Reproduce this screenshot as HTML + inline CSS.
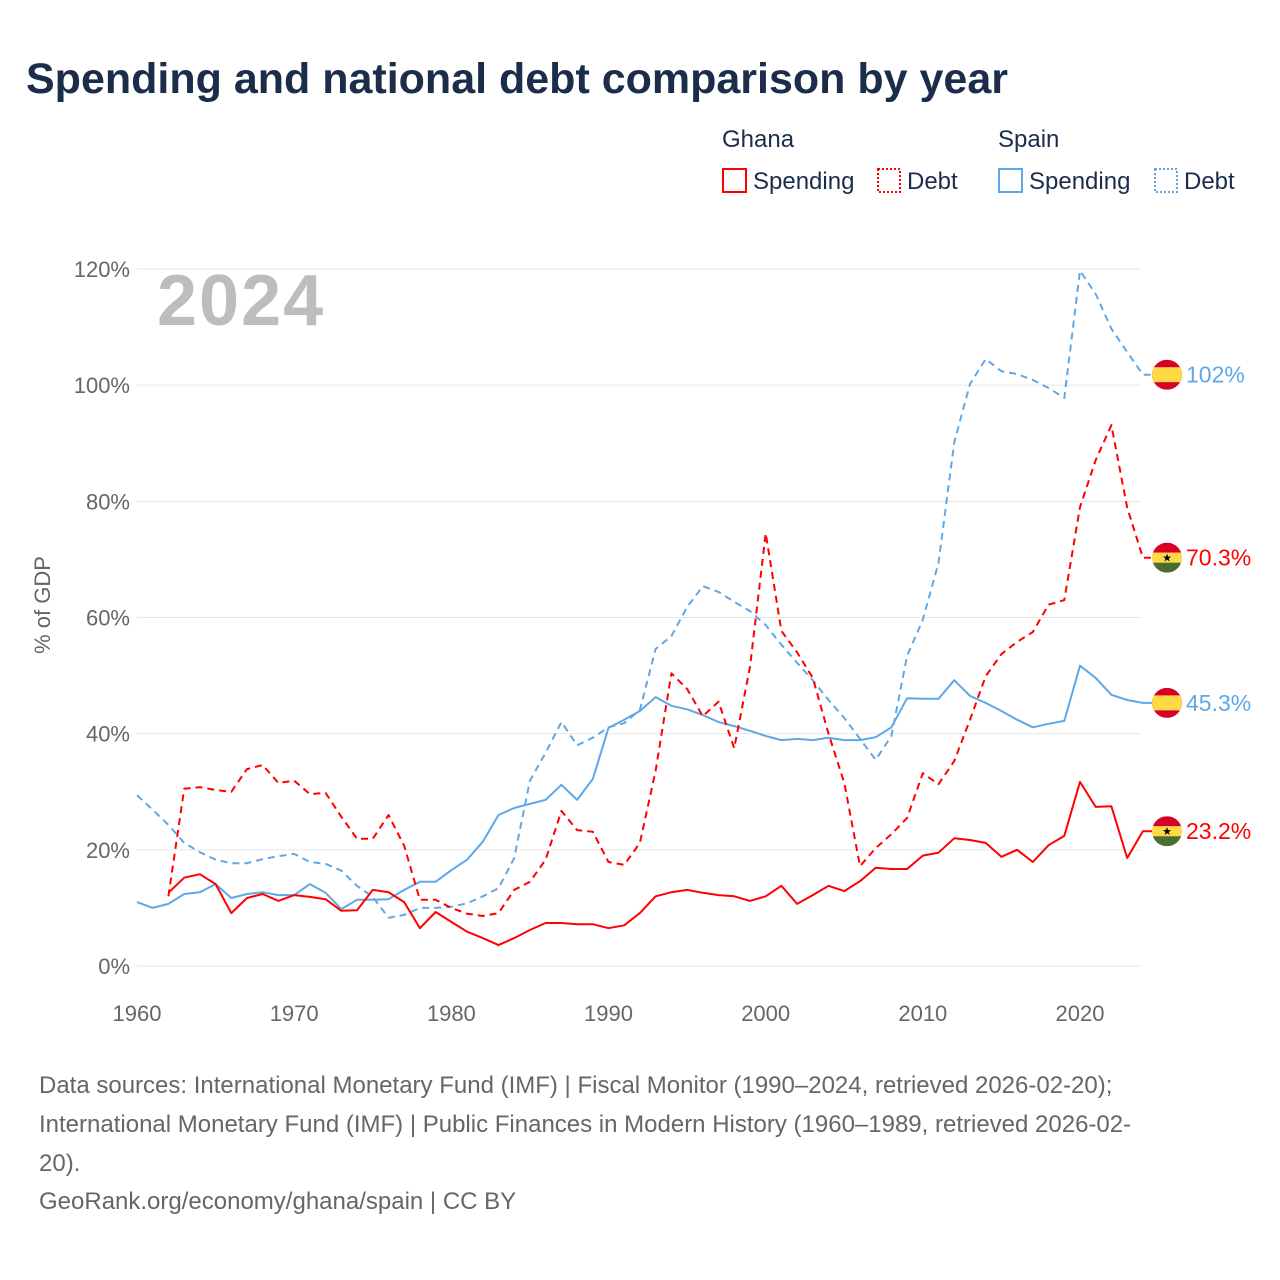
<!DOCTYPE html>
<html><head><meta charset="utf-8">
<style>
body{margin:0;background:#fff;}
svg{display:block;font-family:"Liberation Sans",sans-serif;}
</style></head>
<body>
<svg id="chart" width="1280" height="1280" viewBox="0 0 1280 1280">
<text x="26" y="93" font-size="43" font-weight="bold" fill="#1b2d4b">Spending and national debt comparison by year</text>
<g font-size="24" fill="#1b2d4b">
<text x="722" y="147">Ghana</text>
<text x="998" y="147">Spain</text>
<rect x="723" y="169" width="23" height="23" fill="none" stroke="#f00" stroke-width="2"/>
<text x="753" y="189">Spending</text>
<rect x="878" y="169" width="22" height="23" fill="none" stroke="#f00" stroke-width="2" stroke-dasharray="2,2"/>
<text x="907" y="189">Debt</text>
<rect x="999" y="169" width="23" height="23" fill="none" stroke="#5fa8e8" stroke-width="2"/>
<text x="1029" y="189">Spending</text>
<rect x="1155" y="169" width="22" height="23" fill="none" stroke="#5fa8e8" stroke-width="2" stroke-dasharray="2,2"/>
<text x="1184" y="189">Debt</text>
</g>
<g id="grid"></g>
<text x="157" y="325" font-size="72" font-weight="bold" fill="#bdbdbd" letter-spacing="2">2024</text>
<text transform="translate(50,605) rotate(-90)" text-anchor="middle" font-size="22" fill="#666">% of GDP</text>
<g id="series"></g>
<g id="endlabels"></g>
<g font-size="24" fill="#666">
<text x="39" y="1093">Data sources: International Monetary Fund (IMF) | Fiscal Monitor (1990–2024, retrieved 2026-02-20);</text>
<text x="39" y="1132">International Monetary Fund (IMF) | Public Finances in Modern History (1960–1989, retrieved 2026-02-</text>
<text x="39" y="1171">20).</text>
<text x="39" y="1209">GeoRank.org/economy/ghana/spain | CC BY</text>
</g>
</svg>
<script>
const yTicks=[0,20,40,60,80,100,120];
const xTicks=[1960,1970,1980,1990,2000,2010,2020];
const ghanaSpending=[12.6,15.2,15.8,14.1,9.1,11.7,12.4,11.2,12.2,11.9,11.5,9.5,9.6,13.1,12.7,11,6.5,9.3,7.6,5.9,4.8,3.6,4.8,6.2,7.4,7.4,7.2,7.2,6.5,7,9.1,12,12.7,13.1,12.6,12.2,12,11.2,12,13.8,10.7,12.2,13.8,12.9,14.6,16.9,16.7,16.7,19,19.5,22,21.7,21.2,18.8,20,17.9,20.8,22.4,31.7,27.4,27.5,18.6,23.2];
const ghanaDebt=[12,30.5,30.8,30.3,30,33.9,34.6,31.5,31.9,29.6,29.8,25.7,21.9,21.9,26,20.7,11.4,11.4,10,9,8.6,9.1,13.1,14.5,18.3,26.7,23.4,23.1,17.9,17.4,21.2,33.6,50.4,47.7,43,45.5,37.5,51.5,74.5,57.7,54,49.6,40,31.5,17.2,20.3,22.7,25.5,33.2,31.3,35.3,42.4,49.9,53.7,55.8,57.5,62.2,63,79,87.1,93.1,78.9,70.3];
const spainSpending=[11,10,10.7,12.4,12.7,14.1,11.7,12.4,12.7,12.2,12.2,14.1,12.6,9.8,11.4,11.4,11.5,13.1,14.5,14.5,16.5,18.3,21.4,26,27.2,27.9,28.6,31.2,28.6,32.2,41,42.4,43.9,46.3,44.8,44.2,43.2,42,41.3,40.5,39.6,38.9,39.1,38.9,39.3,38.9,38.9,39.4,41.1,46.1,46,46,49.2,46.5,45.3,43.9,42.4,41.1,41.7,42.2,51.7,49.6,46.7,45.8,45.3];
const spainDebt=[29.4,26.9,24.3,21.2,19.6,18.3,17.7,17.7,18.4,18.9,19.3,17.9,17.6,16.4,13.8,11.9,8.3,8.8,10,10,10.2,10.8,12,13.4,18.6,31.9,36.7,42,38,39.3,41.1,41.8,44.1,54.6,56.8,61.8,65.4,64.4,62.7,61.1,58.7,55.3,52.2,49.2,45.8,42.7,39.1,35.5,39.6,53.4,59.6,69.4,90.2,100.2,104.5,102.4,101.9,100.9,99.5,97.8,119.7,115.7,109.7,105.7,101.8];
const ghanaStart=1962, spainStart=1960;
const endLabels=["102%","70.3%","45.3%","23.2%"];

const NS="http://www.w3.org/2000/svg";
const X=y=>137+(y-1960)*(1080-137)/60;
const Y=v=>966-v*(966-269)/120;
function mk(tag,attrs,parent){const e=document.createElementNS(NS,tag);for(const k in attrs)e.setAttribute(k,attrs[k]);parent.appendChild(e);return e;}
const grid=document.getElementById('grid');
yTicks.forEach(t=>{
  const l=mk('line',{x1:137,x2:1141,y1:Y(t),y2:Y(t),stroke:'#e6e6e6','stroke-width':1},grid);
  
  
  const tx=mk('text',{x:130,y:Y(t)+8,'text-anchor':'end','font-size':22,fill:'#666'},grid);
  tx.textContent=t+'%';
  
  
});
xTicks.forEach(t=>{
  const tx=mk('text',{x:X(t),y:1021,'text-anchor':'middle','font-size':22,fill:'#666'},grid);
  tx.textContent=t;
  
  
});
const series=document.getElementById('series');
function line(arr,start,color,dash,name){
  const pts=arr.map((v,i)=>X(start+i).toFixed(1)+','+Y(v).toFixed(1));
  const last=Y(arr[arr.length-1]).toFixed(1);
  pts.push('1152,'+last);
  const p=mk('polyline',{points:pts.join(' '),fill:'none',stroke:color,'stroke-width':2,'stroke-linejoin':'round'},series);
  if(dash)p.setAttribute('stroke-dasharray','7,5');
  
  
}
const RED='#f00',BLUE='#5fa8e8';
line(spainSpending,spainStart,BLUE,false,'spain-spending-line');
line(spainDebt,spainStart,BLUE,true,'spain-debt-line');
line(ghanaSpending,ghanaStart,RED,false,'ghana-spending-line');
line(ghanaDebt,ghanaStart,RED,true,'ghana-debt-line');

const el=document.getElementById('endlabels');
function flag(cy,country,label,color,name){
  const g=mk('g',{},el);
  
  
  const cx=1167,r=15;
  const cid='c'+name;
  const cp=mk('clipPath',{id:cid},g);mk('circle',{cx:cx,cy:cy,r:r},cp);
  const fg=mk('g',{'clip-path':'url(#'+cid+')'},g);
  if(country==='es'){
    mk('rect',{x:cx-r,y:cy-r,width:2*r,height:2*r,fill:'#d80027'},fg);
    mk('rect',{x:cx-r,y:cy-r/2,width:2*r,height:r,fill:'#ffda44'},fg);
  }else{
    mk('rect',{x:cx-r,y:cy-r,width:2*r,height:10,fill:'#d80027'},fg);
    mk('rect',{x:cx-r,y:cy-5,width:2*r,height:10,fill:'#ffda44'},fg);
    mk('rect',{x:cx-r,y:cy+5,width:2*r,height:10,fill:'#496e2d'},fg);
    const s=mk('text',{x:cx,y:cy+4,'text-anchor':'middle','font-size':11,fill:'#000'},fg);s.textContent='★';
  }
  const t=mk('text',{x:1186,y:cy+8,'font-size':23,fill:color},g);
  t.textContent=label;
}
flag(Y(spainDebt[spainDebt.length-1]),'es',endLabels[0],BLUE,'label-spain-debt');
flag(Y(ghanaDebt[ghanaDebt.length-1]),'gh',endLabels[1],RED,'label-ghana-debt');
flag(Y(spainSpending[spainSpending.length-1]),'es',endLabels[2],BLUE,'label-spain-spending');
flag(Y(ghanaSpending[ghanaSpending.length-1]),'gh',endLabels[3],RED,'label-ghana-spending');
</script>
</body></html>
